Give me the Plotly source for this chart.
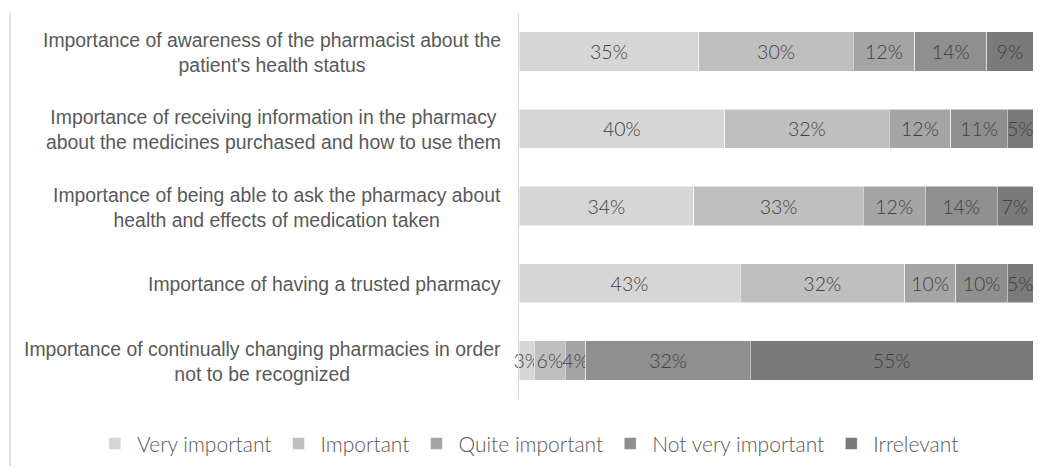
import plotly.graph_objects as go

categories = [
    "Importance of awareness of the pharmacist about the<br>patient's health status",
    "Importance of receiving information in the pharmacy<br>about the medicines purchased and how to use them",
    "Importance of being able to ask the pharmacy about<br>health and effects of medication taken",
    "Importance of having a trusted pharmacy",
    "Importance of continually changing pharmacies in order<br>not to be recognized",
]
series_names = ["Very important", "Important", "Quite important", "Not very important", "Irrelevant"]
very_important = [35, 40, 34, 43, 3]
important = [30, 32, 33, 32, 6]
quite_important = [12, 12, 12, 10, 4]
not_very_important = [14, 11, 14, 10, 32]
irrelevant = [9, 5, 7, 5, 55]

series_values = [very_important, important, quite_important, not_very_important, irrelevant]
colors = ["#d6d6d6", "#bfbfbf", "#a5a5a5", "#8f8f8f", "#7a7a7a"]

light_font = "Lato, Carlito, 'Liberation Sans Narrow', sans-serif"
label_font = dict(family=light_font, size=19.5, color="#404040", weight=300)

fig = go.Figure()
for name, vals, col in zip(series_names, series_values, colors):
    fig.add_trace(go.Bar(
        y=categories, x=vals, name=name, orientation="h",
        marker=dict(color=col, line=dict(color="#ffffff", width=0.5)),
        text=[f"{v}%" for v in vals], textposition="inside",
        insidetextanchor="middle", textangle=0, constraintext="none",
        cliponaxis=False, textfont=label_font, hoverinfo="skip",
    ))

# category labels, centred multi-line text placed on the category axis
for cat in categories:
    fig.add_annotation(
        x=0, xref="paper", y=cat, yref="y", text=cat, showarrow=False,
        xanchor="right", yanchor="middle", align="center", xshift=-16, yshift=-1,
        font=dict(family="'Liberation Sans', Arial, sans-serif", size=19.4, color="#595959"),
    )

fig.update_layout(
    barmode="stack", bargap=0.49,
    width=1043, height=474,
    margin=dict(l=519, r=10, t=13, b=75),
    paper_bgcolor="white", plot_bgcolor="white",
    xaxis=dict(range=[0, 100], visible=False),
    yaxis=dict(autorange="reversed", showline=True, linecolor="#d9d9d9", linewidth=1,
               ticks="", showgrid=False, automargin=False, showticklabels=False),
    legend=dict(orientation="h", x=-0.829, xanchor="left",
                y=-0.116, yanchor="middle",
                font=dict(family=light_font, size=21, color="#595959", weight=300),
                itemwidth=34, traceorder="normal"),
    shapes=[dict(type="line", xref="paper", yref="paper", x0=-0.990, x1=-0.990,
                 y0=1.001, y1=-0.173, line=dict(color="#d9d9d9", width=1.5))],
)

fig.write_html("out.html")
